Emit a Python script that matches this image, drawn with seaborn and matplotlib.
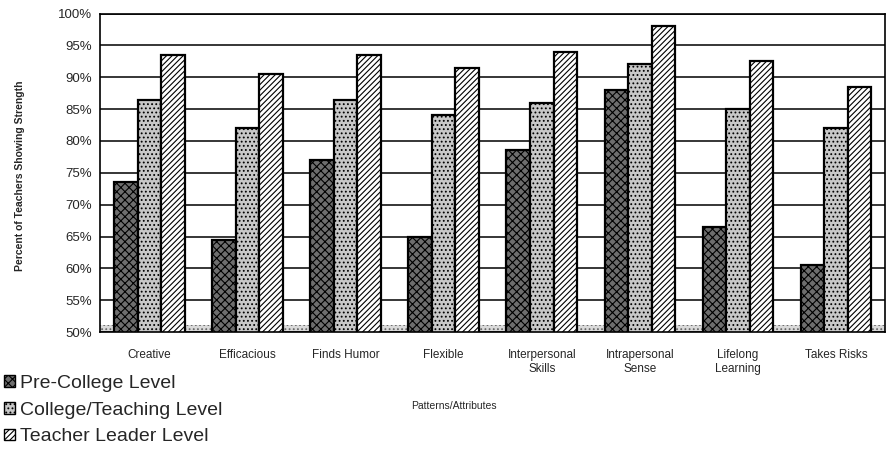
import numpy as np
import pandas as pd
import matplotlib
matplotlib.use("Agg")
import matplotlib.pyplot as plt
import seaborn as sns
from matplotlib.patches import Patch

categories = ["Creative", "Efficacious", "Finds Humor", "Flexible",
              "Interpersonal\nSkills", "Intrapersonal\nSense",
              "Lifelong\nLearning", "Takes Risks"]
pre_college = [73.5, 64.5, 77.0, 65.0, 78.5, 88.0, 66.5, 60.5]
college_teaching = [86.5, 82.0, 86.5, 84.0, 86.0, 92.0, 85.0, 82.0]
teacher_leader = [93.5, 90.5, 93.5, 91.5, 94.0, 98.0, 92.5, 88.5]
series = ["Pre-College Level", "College/Teaching Level", "Teacher Leader Level"]
y_ticks = [50, 55, 60, 65, 70, 75, 80, 85, 90, 95, 100]

rows = []
for name, vals in zip(series, [pre_college, college_teaching, teacher_leader]):
    for c, v in zip(categories, vals):
        rows.append({"Attribute": c, "Level": name, "Percent": v})
df = pd.DataFrame(rows)

sns.set_theme(style="white")
plt.rcParams["font.family"] = ["Liberation Sans", "DejaVu Sans"]
plt.rcParams["hatch.linewidth"] = 0.8

faces = ["#6e6e6e", "#c8c8c8", "#ffffff"]
hatches = ["xxxx", "....", "//////"]

fig = plt.figure(figsize=(8.87, 4.5), dpi=100)
ax = fig.add_axes([0.113, 0.262, 0.885, 0.708])

# floor band
ax.axhspan(50, 51.1, facecolor="#d9d9d9", hatch="....", edgecolor="#666666", lw=0, zorder=0.5)

sns.barplot(data=df, x="Attribute", y="Percent", hue="Level", order=categories,
            hue_order=series, palette=faces, width=0.72, saturation=1,
            edgecolor="black", linewidth=1.6, ax=ax, legend=False, zorder=2)

for cont, h in zip(ax.containers, hatches):
    for bar in cont:
        bar.set_hatch(h)

ax.set_ylim(50, 100)
ax.set_xlim(-0.5, len(categories) - 0.5)
ax.set_yticks(y_ticks)
ax.set_yticklabels([f"{t}%" for t in y_ticks], fontsize=9.5)
ax.yaxis.grid(True, color="black", lw=1.1)
ax.set_axisbelow(True)

ax.set_xticks(range(len(categories)))
ax.set_xticklabels(categories, fontsize=8.5)
ax.set_xticks(np.arange(-0.5, len(categories), 1), minor=True)
ax.tick_params(axis="x", which="major", length=0, pad=12)
ax.tick_params(axis="x", which="minor", length=4, width=1, color="black", direction="out")
ax.tick_params(axis="y", length=4, width=1, color="black", direction="out", pad=2)
ax.set_xlabel("")
ax.set_ylabel("")
for s in ax.spines.values():
    s.set_color("black")
    s.set_linewidth(1.2)

fig.text(0.022, 0.61, "Percent of Teachers Showing Strength", rotation=90,
         fontsize=7.5, fontweight="bold", ha="center", va="center")
fig.text(0.512, 0.098, "Patterns/Attributes", fontsize=7.5, ha="center", va="center")

handles = [Patch(facecolor=f, hatch=h, edgecolor="black", lw=1) for f, h in zip(faces, hatches)]
fig.legend(handles, series, loc="upper left", bbox_to_anchor=(0.005, 0.167),
           frameon=False, fontsize=14, handlelength=0.55, handleheight=0.55,
           handletextpad=0.25, labelspacing=0.5, borderpad=0, borderaxespad=0)

fig.savefig("out.png", dpi=100)
